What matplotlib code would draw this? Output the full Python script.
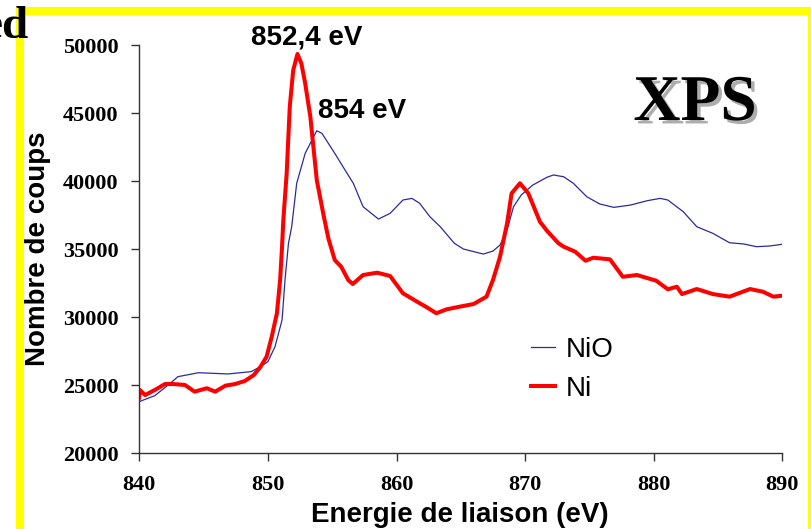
import matplotlib
matplotlib.use("Agg")
import matplotlib.pyplot as plt
from matplotlib.patches import Rectangle
import matplotlib.patheffects as pe

# ---- data ----
nio_energy = [840, 841.2, 842.25, 843.0, 844.6, 846.9, 848.7, 849.4, 850.0, 850.55,
              851.1, 851.33, 851.6, 851.85, 852.24, 852.9, 853.8, 854.2, 855.2, 856.0,
              856.64, 857.4, 858.6, 859.5, 860.5, 861.2, 861.8, 862.6, 863.4, 864.5,
              865.2, 866.75, 867.5, 868.05, 868.6, 869.1, 869.7, 870.6, 871.7, 872.2,
              873.0, 873.75, 874.8, 875.8, 876.9, 878.2, 879.5, 880.5, 881.1, 882.3,
              883.35, 884.6, 885.9, 887.0, 888.0, 889.0, 890.0]
nio_counts = [23800, 24230, 25020, 25630, 25920, 25830, 26000, 26360, 26730, 27830,
              29790, 32730, 35430, 36650, 39840, 42040, 43700, 43510, 42040, 40810,
              39840, 38120, 37210, 37630, 38610, 38730, 38370, 37380, 36650, 35430,
              35010, 34640, 34860, 35300, 36410, 38120, 38980, 39710, 40280, 40450,
              40320, 39840, 38850, 38320, 38070, 38240, 38560, 38730, 38610, 37750,
              36650, 36160, 35470, 35380, 35180, 35230, 35360]

ni_energy = [840, 840.05, 840.45, 841.2, 842.0, 842.65, 843.55, 844.3, 845.25, 845.9,
             846.7, 847.45, 848.2, 848.9, 849.4, 849.9, 850.3, 850.7, 850.95, 851.1,
             851.2, 851.46, 851.7, 851.97, 852.3, 852.6, 852.9, 853.3, 853.8, 854.3,
             854.7, 855.2, 855.7, 856.25, 856.6, 857.4, 858.5, 859.5, 860.5, 861.6,
             862.35, 863.1, 863.9, 864.9, 866.0, 867.0, 867.5, 868.05, 868.6, 868.95,
             869.6, 870.25, 871.15, 871.7, 872.6, 873.0, 873.9, 874.7, 875.3, 876.6,
             877.6, 878.7, 880.2, 881.1, 881.8, 882.2, 883.35, 884.6, 885.9, 887.5,
             888.5, 889.3, 890.0]
ni_counts = [24100, 24650, 24280, 24650, 25090, 25090, 25020, 24530, 24780, 24530,
             24970, 25090, 25310, 25750, 26320, 27100, 28570, 30290, 32730, 35180,
             37140, 40570, 45470, 48160, 49340, 48650, 47180, 44730, 40080, 37630,
             35800, 34200, 33710, 32730, 32440, 33100, 33270, 33030, 31760, 31140,
             30730, 30290, 30580, 30770, 30970, 31510, 32730, 34440, 36900, 39100,
             39840, 39100, 37020, 36350, 35430, 35180, 34810, 34150, 34370, 34250,
             32970, 33100, 32680, 32050, 32240, 31700, 32070, 31700, 31510, 32070,
             31870, 31510, 31580]

x_ticks = [840, 850, 860, 870, 880, 890]
y_ticks = [20000, 25000, 30000, 35000, 40000, 45000, 50000]
series_labels = ["NiO", "Ni"]
peak_labels = ["852,4 eV", "854 eV"]
peak_pos = [(853.04, 50070), (853.9, 44630)]

W, H = 812, 529
fig = plt.figure(figsize=(W / 100, H / 100), dpi=100)
fig.patch.set_facecolor("white")

# yellow frame
fig.patches.append(Rectangle((20 / W, 1 - 531 / H), (812 - 20) / W, (531 - 11) / H,
                             transform=fig.transFigure, fill=False,
                             edgecolor="#ffff00", linewidth=5.8, zorder=0))

ax = fig.add_axes([139.3 / W, 1 - 453.3 / H, 643 / W, 408.3 / H])
ax.set_facecolor("white")
ax.plot(nio_energy, nio_counts, color="#2a2aa0", lw=0.9, label=series_labels[0])
ax.plot(ni_energy, ni_counts, color="#ff0000", lw=2.9, label=series_labels[1])

ax.set_xlim(840, 890)
ax.set_ylim(20000, 50000)
ax.set_xticks(x_ticks)
ax.set_yticks(y_ticks)
for s in ["top", "right"]:
    ax.spines[s].set_visible(False)
for s in ["left", "bottom"]:
    ax.spines[s].set_color("#333333")
    ax.spines[s].set_linewidth(1.0)

tick_font = dict(family="Liberation Serif", weight="bold", size=16)
ax.tick_params(axis="both", direction="out", length=5.8, width=1.0, color="#333333")
ax.tick_params(axis="y", pad=9)
ax.tick_params(axis="x", pad=10)
for lab in ax.get_xticklabels() + ax.get_yticklabels():
    lab.set_fontproperties(matplotlib.font_manager.FontProperties(**tick_font))

label_font = dict(family="Liberation Sans", weight="bold", size=20)
ax.set_xlabel("Energie de liaison (eV)", **label_font)
ax.set_ylabel("Nombre de coups", **label_font)
ax.xaxis.set_label_coords(0.499, -0.12)
ax.yaxis.set_label_coords(-0.137, 0.5)

ax.text(peak_pos[0][0], peak_pos[0][1], peak_labels[0], ha="center", va="baseline",
        clip_on=False, **label_font)
ax.text(peak_pos[1][0], peak_pos[1][1], peak_labels[1], ha="left", va="baseline",
        clip_on=False, **label_font)

leg = ax.legend(loc="upper left", bbox_to_anchor=(531 / W, 1 - 337 / H),
                bbox_transform=fig.transFigure, frameon=False,
                prop=dict(family="Liberation Sans", size=20),
                handlelength=0.85, handletextpad=0.4, labelspacing=0.45,
                borderpad=0, borderaxespad=0)

fig.text(695 / W, 1 - 120 / H, "XPS", ha="center", va="baseline",
         family="Liberation Serif", weight="bold", size=47, color="black",
         path_effects=[pe.withSimplePatchShadow(offset=(2.5, -2.5),
                                                shadow_rgbFace="#999999", alpha=0.8)])

fig.text(29 / W, 1 - 38 / H, "ed", ha="right", va="baseline",
         family="Liberation Serif", weight="bold", size=34, color="black", zorder=5)

fig.savefig("out.png", dpi=100, facecolor="white")
